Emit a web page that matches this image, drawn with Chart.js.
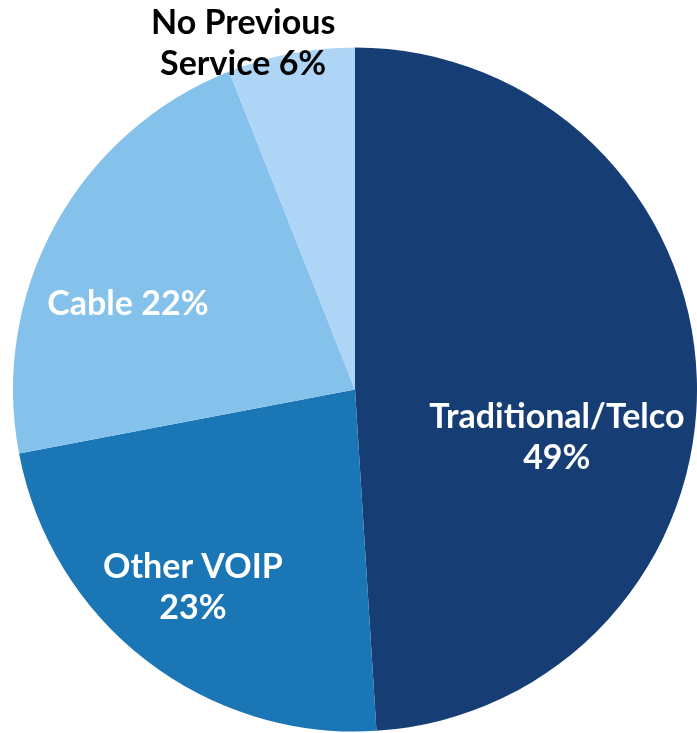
<!DOCTYPE html>
<html>
<head>
<meta charset="utf-8">
<script src="https://cdn.jsdelivr.net/npm/chart.js@4"></script>
<style>
  html, body { margin: 0; padding: 0; background: #fff; }
  #wrap { width: 697px; height: 733px; position: relative; }
</style>
</head>
<body>
<div id="wrap"><canvas id="pieChart"></canvas></div>
<script>
const categories = ['Traditional/Telco', 'Other VOIP', 'Cable', 'No Previous Service'];
const shares = [49, 23, 22, 6];
const sliceColors = ['#163D74', '#1B76B6', '#84C2EC', '#AED5F5'];

// label text lines, colour and where the block sits (in units of the radius from the centre)
const labelLines = [
    ['Traditional/Telco', '49%'],
    ['Other VOIP', '23%'],
    ['Cable 22%'],
    ['No Previous', 'Service 6%']
];
const labelColors = ['#fff', '#fff', '#fff', '#000'];
const labelOffsets = [[0.59, 0.14], [-0.474, 0.578], [-0.664, -0.25], [-0.327, -1.012]];

const sliceLabels = {
    id: 'sliceLabels',
    afterDatasetsDraw(chart) {
        const c = chart.ctx;
        const arcs = chart.getDatasetMeta(0).data;
        c.save();
        c.font = 'bold 34px Lato, "DejaVu Sans", sans-serif';
        c.textAlign = 'center';
        c.textBaseline = 'middle';
        arcs.forEach((arc, i) => {
            const r = arc.outerRadius;
            const x = arc.x + labelOffsets[i][0] * r;
            const y = arc.y + labelOffsets[i][1] * r;
            const lines = labelLines[i];
            const lh = 41;
            c.fillStyle = labelColors[i];
            lines.forEach((t, k) => {
                c.fillText(t, x, y + (k - (lines.length - 1) / 2) * lh);
            });
        });
        c.restore();
    }
};

new Chart(document.getElementById('pieChart'), {
    type: 'pie',
    data: {
        labels: categories,
        datasets: [{
            data: shares,
            backgroundColor: sliceColors,
            borderWidth: 0
        }]
    },
    options: {
        responsive: true,
        maintainAspectRatio: false,
        animation: false,
        layout: { padding: { top: 47, bottom: 1, left: 13, right: 0 } },
        plugins: {
            legend: { display: false },
            tooltip: { enabled: false }
        }
    },
    plugins: [sliceLabels]
});
</script>
</body>
</html>
